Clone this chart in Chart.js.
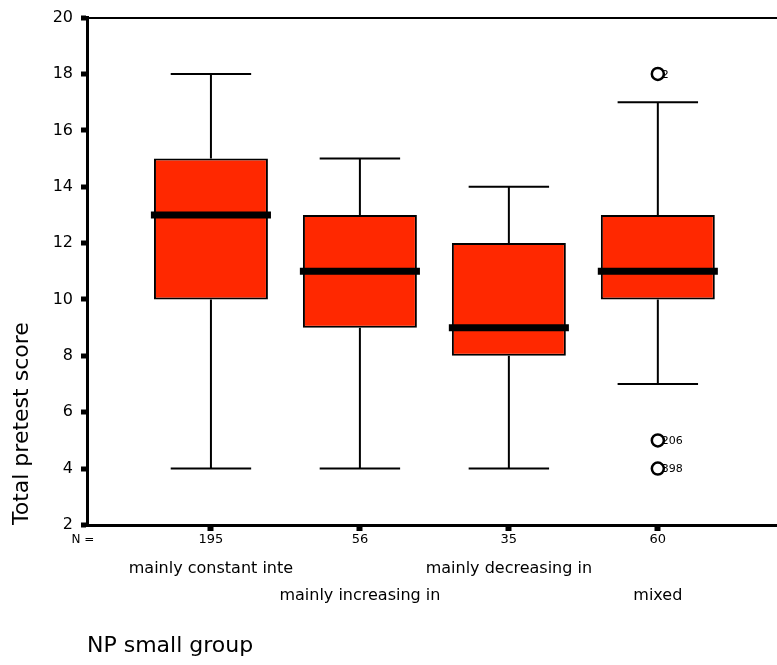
<!DOCTYPE html>
<html>
<head>
<meta charset="utf-8">
<script src="https://cdn.jsdelivr.net/npm/chart.js@4.4.0/dist/chart.umd.min.js"></script>
<style>
  body { margin: 0; background: #fff; }
  #wrap { width: 777px; height: 665px; }
</style>
</head>
<body>
<div id="wrap"><canvas id="myChart" width="777" height="665"></canvas></div>
<script>
// groups on the x axis and their case counts
const groups = ["mainly constant inte", "mainly increasing in", "mainly decreasing in", "mixed"];
const nValues = ["195", "56", "35", "60"];

// box plot numbers
const whiskerLow = [4, 4, 4, 7];
const q1 = [10, 9, 8, 10];
const median = [13, 11, 9, 11];
const q3 = [15, 13, 12, 13];
const whiskerHigh = [18, 15, 14, 17];

// outliers (group index, score, case id)
const outlierGroup = [3, 3, 3];
const outlierValue = [18, 5, 4];
const outlierLabel = ["2", "206", "398"];

const yTicks = [2, 4, 6, 8, 10, 12, 14, 16, 18, 20];

const FONT = "'DejaVu Sans', Verdana, sans-serif";
const CAP = 0.27;   // half width of whisker caps, in group units
const MED = 0.403;  // half width of median bar

Chart.defaults.color = "#000";
Chart.defaults.font.family = FONT;

// build the line pieces from the numbers
let whiskerPts = [];
let medianPts = [];
groups.forEach((g, i) => {
  whiskerPts.push({ x: i, y: whiskerLow[i] }, { x: i, y: q1[i] }, { x: i, y: null });
  whiskerPts.push({ x: i, y: q3[i] }, { x: i, y: whiskerHigh[i] }, { x: i, y: null });
  whiskerPts.push({ x: i - CAP, y: whiskerLow[i] }, { x: i + CAP, y: whiskerLow[i] }, { x: i, y: null });
  whiskerPts.push({ x: i - CAP, y: whiskerHigh[i] }, { x: i + CAP, y: whiskerHigh[i] }, { x: i, y: null });
  medianPts.push({ x: i - MED, y: median[i] }, { x: i + MED, y: median[i] }, { x: i, y: null });
});

const boxPts = groups.map((g, i) => ({ x: i, y: [q1[i], q3[i]] }));
const outlierPts = outlierValue.map((v, k) => ({ x: outlierGroup[k], y: v }));

// second row of axis text: stagger the group names over two lines
const groupLines = groups.map((g, i) => (i % 2 === 0 ? [g] : ["", g]));

const groupTicks = (axis) => {
  axis.ticks = groups.map((g, i) => ({ value: i }));
};

// case ids beside the outlier circles, and the "N =" tag
const extraText = {
  id: "extraText",
  afterDatasetsDraw(chart) {
    const ctx = chart.ctx;
    const meta = chart.getDatasetMeta(3);
    ctx.save();
    ctx.fillStyle = "#000";
    ctx.textBaseline = "middle";
    ctx.font = "11px " + FONT;
    meta.data.forEach((pt, k) => {
      ctx.fillText(outlierLabel[k], pt.x + 4, pt.y + 1);
    });
    const xs = chart.scales.x;
    ctx.font = "12px " + FONT;
    ctx.textAlign = "center";
    ctx.fillText("N =", chart.chartArea.left - 4, xs.top + 15);
    ctx.restore();
  }
};

const config = {
  type: "bar",
  data: {
    datasets: [
      {
        type: "line",
        data: whiskerPts,
        borderColor: "#000",
        borderWidth: 2,
        pointRadius: 0,
        spanGaps: false,
        order: 4
      },
      {
        type: "bar",
        data: boxPts,
        backgroundColor: "#ff2800",
        borderColor: "#000",
        borderWidth: 2,
        borderSkipped: false,
        categoryPercentage: 1,
        barPercentage: 0.765,
        order: 3
      },
      {
        type: "line",
        data: medianPts,
        borderColor: "#000",
        borderWidth: 7,
        borderCapStyle: "butt",
        pointRadius: 0,
        spanGaps: false,
        order: 2
      },
      {
        type: "line",
        data: outlierPts,
        showLine: false,
        pointStyle: "circle",
        pointRadius: 6,
        pointBorderWidth: 2.5,
        pointBackgroundColor: "#fff",
        pointBorderColor: "#000",
        order: 1
      }
    ]
  },
  options: {
    responsive: false,
    animation: false,
    layout: {
      autoPadding: false,
      padding: { top: 16, right: 0, bottom: 6, left: 0 }
    },
    plugins: {
      legend: { display: false },
      tooltip: { enabled: false }
    },
    scales: {
      x: {
        type: "linear",
        position: "bottom",
        weight: 0,
        min: -0.832,
        max: 3.8,
        offset: false,
        afterBuildTicks: groupTicks,
        grid: {
          offset: false,
          drawOnChartArea: false,
          tickLength: 6,
          tickWidth: 6,
          tickColor: "#000"
        },
        border: { display: true, color: "#000", width: 3 },
        ticks: {
          autoSkip: false,
          maxRotation: 0,
          minRotation: 0,
          padding: 1,
          font: { size: 13 },
          callback: (v, i) => nValues[i]
        }
      },
      x2: {
        type: "linear",
        position: "bottom",
        axis: "x",
        weight: 1,
        min: -0.832,
        max: 3.8,
        offset: false,
        afterBuildTicks: groupTicks,
        grid: { display: false, drawTicks: false },
        border: { display: false },
        ticks: {
          autoSkip: false,
          maxRotation: 0,
          minRotation: 0,
          padding: 7,
          font: { size: 16, lineHeight: 27 / 16 },
          callback: (v, i) => groupLines[i]
        },
        title: {
          display: true,
          text: "NP small group",
          align: "start",
          font: { size: 22 },
          padding: { top: 16, bottom: 0 }
        }
      },
      y: {
        type: "linear",
        min: 2,
        max: 20,
        afterBuildTicks: (axis) => {
          axis.ticks = yTicks.map((v) => ({ value: v }));
        },
        afterFit: (axis) => {
          axis.width = 87;
        },
        grid: {
          color: (c) => (c.tick && c.tick.value === 20 ? "#000" : "rgba(0,0,0,0)"),
          lineWidth: 2,
          tickLength: 6,
          tickWidth: 5,
          tickColor: "#000"
        },
        border: { display: true, color: "#000", width: 3 },
        ticks: {
          padding: 8,
          font: { size: 16 }
        },
        title: {
          display: true,
          text: "Total pretest score",
          align: "start",
          font: { size: 22 },
          padding: { top: 9, bottom: 4 }
        }
      }
    }
  },
  plugins: [extraText]
};

const myChart = new Chart(document.getElementById("myChart"), config);
</script>
</body>
</html>
